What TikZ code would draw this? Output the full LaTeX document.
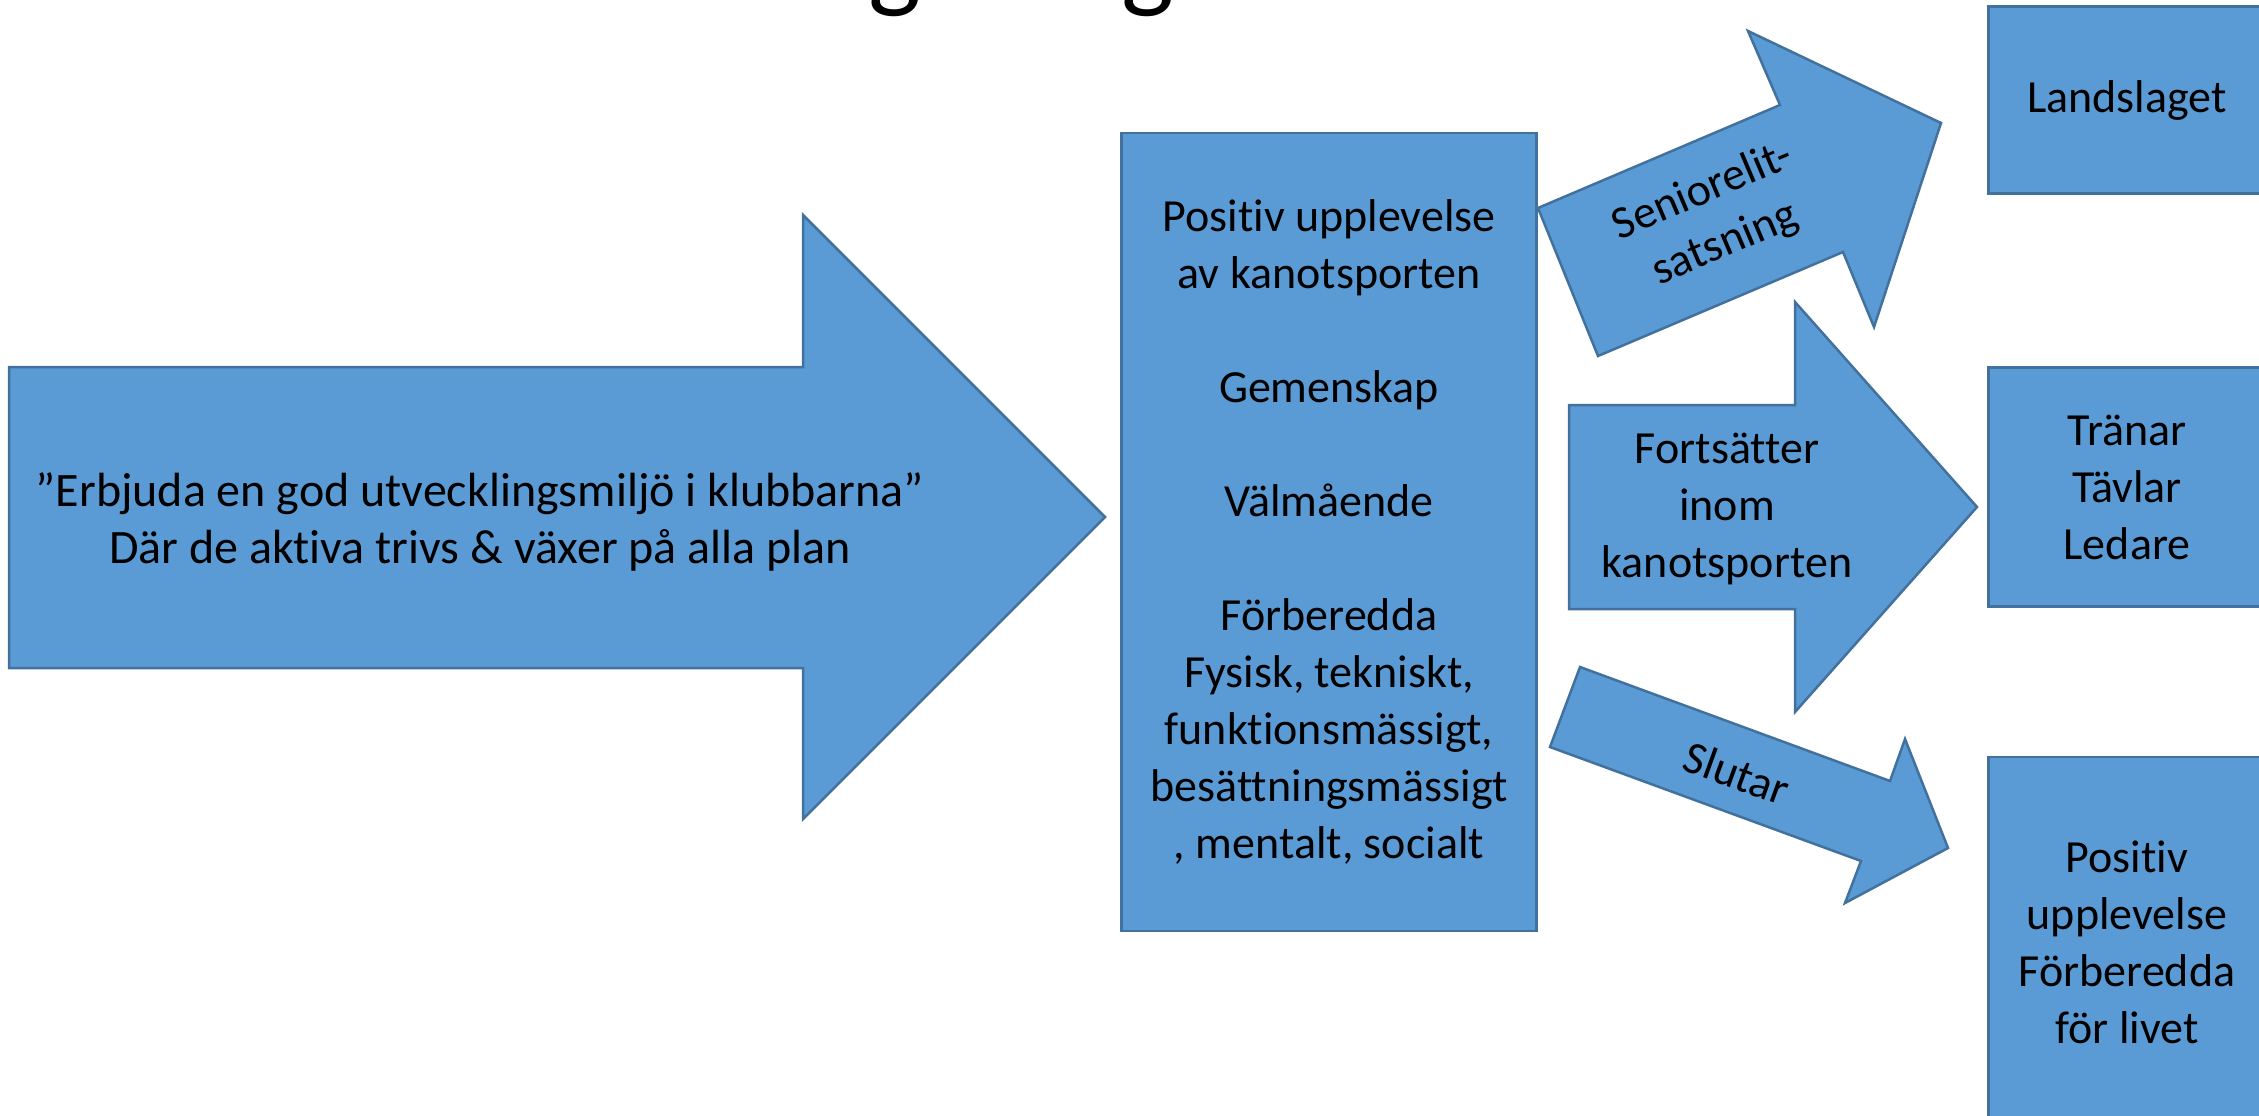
\documentclass[tikz,border=0pt]{standalone}
\usepackage{fontspec}
\setmainfont{Carlito}[Ligatures=NoCommon]
\usepackage{tikz}
\usetikzlibrary{calc, positioning}
\definecolor{boxfill}{HTML}{5B9BD5}
\definecolor{boxline}{HTML}{41719C}
\tikzstyle{blueshape}=[fill=boxfill, draw=boxline, line width=2.5pt, line join=miter]
\tikzstyle{bluebox}=[blueshape, inner sep=0pt, align=center]
\tikzstyle{txt}=[inner sep=0pt, align=center]

\begin{document}
\begin{tikzpicture}[x=1pt, y=-1pt, font=\fontsize{46}{57}\selectfont]
		\useasboundingbox (0,0) rectangle (2259,1116);
		\clip (0,0) rectangle (2259,1116);
		\node[txt, anchor=south, font=\fontsize{112}{130}\selectfont] (titleg1) at (895,17) {g};
		\node[txt, anchor=south, font=\fontsize{112}{130}\selectfont] (titleg2) at (1148,17) {g};
		\draw[blueshape] (9,367) -- (803,367) -- (803,215) -- (1105,517) -- (803,819) -- (803,668) -- (9,668) -- cycle;
		\node[txt, font=\fontsize{48}{57}\selectfont] (goal) at (480,522) {”Erbjuda en god utvecklingsmiljö i klubbarna”\\Där de aktiva trivs \& växer på alla plan};
		\node[bluebox, minimum width=415pt, minimum height=798pt] (result) at (1329,532) {Positiv upplevelse\\av kanotsporten\\[57pt]Gemenskap\\[57pt]Välmående\\[57pt]Förberedda\\Fysisk, tekniskt,\\funktionsmässigt,\\besättningsmässigt\\, mentalt, socialt};
		\draw[blueshape] (1538,208) -- (1780,105) -- (1748,31) -- (1941,123) -- (1874,327) -- (1843,252) -- (1598,356) -- cycle;
		\node[txt, rotate=23] (elite) at (1714,218) {Seniorelit-\\satsning};
		\draw[blueshape] (1569,405) -- (1795,405) -- (1795,302) -- (1977,507) -- (1795,712) -- (1795,609) -- (1569,609) -- cycle;
		\node[txt] (continue) at (1727,509) {Fortsätter\\inom\\kanotsporten};
		\draw[blueshape] (1580,667) -- (1890,781) -- (1905,739) -- (1948,848) -- (1845,903) -- (1861,861) -- (1550,747) -- cycle;
		\node[txt, rotate=-20] (quit) at (1737,773) {Slutar};
		\node[bluebox, minimum width=277pt, minimum height=187pt] (national) at (2127,100) {Landslaget};
		\node[bluebox, minimum width=277pt, minimum height=239pt] (active) at (2127,487) {Tränar\\Tävlar\\Ledare};
		\node[bluebox, minimum width=277pt, minimum height=370pt] (life) at (2127,942) {Positiv\\upplevelse\\Förberedda\\för livet};
	\end{tikzpicture}
\end{document}
